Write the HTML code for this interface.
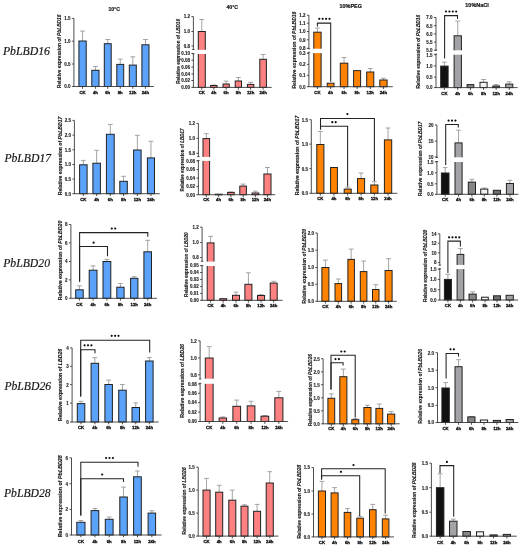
<!DOCTYPE html>
<html><head><meta charset="utf-8"><style>
html,body{margin:0;padding:0;background:#fff;}
body{width:522px;height:550px;overflow:hidden;}
svg{display:block;will-change:transform;}
.a{stroke:#3a3a3a;stroke-width:0.9;fill:none;}
.e{stroke:#9a9a9a;stroke-width:0.9;fill:none;}
.k{stroke:#222;stroke-width:1.05;fill:none;}
.b{stroke:#222222;stroke-width:1;}
text{font-family:"Liberation Sans",sans-serif;font-weight:bold;fill:#222222;}
.tk{font-size:4.5px;text-anchor:end;fill:#1a1a1a;stroke:#1a1a1a;stroke-width:0.12px;}
.xl{font-size:4.3px;text-anchor:middle;fill:#111;stroke:#111;stroke-width:0.3px;}
.yl{font-size:4.9px;fill:#1a1a1a;stroke:#1a1a1a;stroke-width:0.15px;}
.st{font-size:7px;text-anchor:middle;fill:#222;}
.ti{font-size:5.8px;fill:#111;stroke:#111;stroke-width:0.2px;}
.rl{font-family:"Liberation Serif",serif;font-style:italic;font-weight:normal;font-size:11.6px;fill:#161616;stroke:#161616;stroke-width:0.18px;}
</style></head><body>
<svg width="522" height="550" viewBox="0 0 522 550">
<g id="c11">
<line x1="82.55" y1="31.1" x2="82.55" y2="41" class="e"/>
<line x1="80.15" y1="31.1" x2="84.95" y2="31.1" class="e"/>
<rect x="78.9" y="41" width="7.3" height="45.5" fill="#5aa2fa" class="b"/>
<line x1="82.55" y1="86.5" x2="82.55" y2="88.8" class="a"/>
<text x="82.55" y="93.7" class="xl">CK</text>
<line x1="95.4" y1="66.5" x2="95.4" y2="70.3" class="e"/>
<line x1="93" y1="66.5" x2="97.8" y2="66.5" class="e"/>
<rect x="91.8" y="70.3" width="7.2" height="16.2" fill="#5aa2fa" class="b"/>
<line x1="95.4" y1="86.5" x2="95.4" y2="88.8" class="a"/>
<text x="95.4" y="93.7" class="xl">4h</text>
<line x1="107.75" y1="39.5" x2="107.75" y2="43.7" class="e"/>
<line x1="105.35" y1="39.5" x2="110.15" y2="39.5" class="e"/>
<rect x="104.3" y="43.7" width="6.9" height="42.8" fill="#5aa2fa" class="b"/>
<line x1="107.75" y1="86.5" x2="107.75" y2="88.8" class="a"/>
<text x="107.75" y="93.7" class="xl">6h</text>
<line x1="120.25" y1="59.1" x2="120.25" y2="64.4" class="e"/>
<line x1="117.85" y1="59.1" x2="122.65" y2="59.1" class="e"/>
<rect x="116.8" y="64.4" width="6.9" height="22.1" fill="#5aa2fa" class="b"/>
<line x1="120.25" y1="86.5" x2="120.25" y2="88.8" class="a"/>
<text x="120.25" y="93.7" class="xl">8h</text>
<line x1="132.8" y1="56.8" x2="132.8" y2="65.1" class="e"/>
<line x1="130.4" y1="56.8" x2="135.2" y2="56.8" class="e"/>
<rect x="129.3" y="65.1" width="7" height="21.4" fill="#5aa2fa" class="b"/>
<line x1="132.8" y1="86.5" x2="132.8" y2="88.8" class="a"/>
<text x="132.8" y="93.7" class="xl">12h</text>
<line x1="145.45" y1="39.5" x2="145.45" y2="44.8" class="e"/>
<line x1="143.05" y1="39.5" x2="147.85" y2="39.5" class="e"/>
<rect x="141.9" y="44.8" width="7.1" height="41.7" fill="#5aa2fa" class="b"/>
<line x1="145.45" y1="86.5" x2="145.45" y2="88.8" class="a"/>
<text x="145.45" y="93.7" class="xl">24h</text>
<line x1="73.9" y1="18.4" x2="73.9" y2="86.5" class="a"/>
<line x1="73.4" y1="86.5" x2="153.8" y2="86.5" class="a"/>
<line x1="71.9" y1="18.4" x2="73.9" y2="18.4" class="a"/>
<text x="70.5" y="20.25" class="tk">1.5</text>
<line x1="71.9" y1="41.2" x2="73.9" y2="41.2" class="a"/>
<text x="70.5" y="43.05" class="tk">1.0</text>
<line x1="71.9" y1="64" x2="73.9" y2="64" class="a"/>
<text x="70.5" y="65.85" class="tk">0.5</text>
<line x1="71.9" y1="86.5" x2="73.9" y2="86.5" class="a"/>
<text x="70.5" y="88.35" class="tk">0.0</text>
<text transform="translate(61,88) rotate(-90)" class="yl" textLength="73.4" lengthAdjust="spacingAndGlyphs">Relative expression of <tspan font-style="italic">PbLBD16</tspan></text>
<text x="108.4" y="10.8" class="ti" textLength="11.5" lengthAdjust="spacingAndGlyphs">10°C</text>
</g>
<g id="c12">
<line x1="201.8" y1="19.5" x2="201.8" y2="31.5" class="e"/>
<line x1="199.4" y1="19.5" x2="204.2" y2="19.5" class="e"/>
<rect x="198.3" y="31.5" width="7" height="55.9" fill="#fc8080" class="b"/>
<rect x="197.2" y="49.8" width="9.2" height="4.2" fill="#fff"/>
<line x1="201.8" y1="87.4" x2="201.8" y2="89.7" class="a"/>
<text x="201.8" y="93.8" class="xl">CK</text>
<line x1="213.8" y1="85" x2="213.8" y2="85.5" class="e"/>
<line x1="211.4" y1="85" x2="216.2" y2="85" class="e"/>
<rect x="210.6" y="85.5" width="6.4" height="1.9" fill="#fc8080" class="b"/>
<line x1="213.8" y1="87.4" x2="213.8" y2="89.7" class="a"/>
<text x="213.8" y="93.8" class="xl">4h</text>
<line x1="226.1" y1="81.1" x2="226.1" y2="84" class="e"/>
<line x1="223.7" y1="81.1" x2="228.5" y2="81.1" class="e"/>
<rect x="223" y="84" width="6.2" height="3.4" fill="#fc8080" class="b"/>
<line x1="226.1" y1="87.4" x2="226.1" y2="89.7" class="a"/>
<text x="226.1" y="93.8" class="xl">6h</text>
<line x1="238.35" y1="77.5" x2="238.35" y2="81" class="e"/>
<line x1="235.95" y1="77.5" x2="240.75" y2="77.5" class="e"/>
<rect x="235.2" y="81" width="6.3" height="6.4" fill="#fc8080" class="b"/>
<line x1="238.35" y1="87.4" x2="238.35" y2="89.7" class="a"/>
<text x="238.35" y="93.8" class="xl">8h</text>
<line x1="250.6" y1="82.3" x2="250.6" y2="84.4" class="e"/>
<line x1="248.2" y1="82.3" x2="253" y2="82.3" class="e"/>
<rect x="247.4" y="84.4" width="6.4" height="3" fill="#fc8080" class="b"/>
<line x1="250.6" y1="87.4" x2="250.6" y2="89.7" class="a"/>
<text x="250.6" y="93.8" class="xl">12h</text>
<line x1="263.1" y1="54.5" x2="263.1" y2="59.3" class="e"/>
<line x1="260.7" y1="54.5" x2="265.5" y2="54.5" class="e"/>
<rect x="259.8" y="59.3" width="6.6" height="28.1" fill="#fc8080" class="b"/>
<line x1="263.1" y1="87.4" x2="263.1" y2="89.7" class="a"/>
<text x="263.1" y="93.8" class="xl">24h</text>
<line x1="193.4" y1="16.6" x2="193.4" y2="49.5" class="a"/>
<line x1="193.4" y1="53.8" x2="193.4" y2="87.4" class="a"/>
<line x1="192.2" y1="49.5" x2="194.6" y2="49.5" class="a"/>
<line x1="192.2" y1="53.8" x2="194.6" y2="53.8" class="a"/>
<line x1="192.9" y1="87.4" x2="271.7" y2="87.4" class="a"/>
<line x1="191.4" y1="16.6" x2="193.4" y2="16.6" class="a"/>
<text x="190" y="18.45" class="tk">1.2</text>
<line x1="191.4" y1="31.5" x2="193.4" y2="31.5" class="a"/>
<text x="190" y="33.35" class="tk">1.0</text>
<line x1="191.4" y1="46" x2="193.4" y2="46" class="a"/>
<text x="190" y="47.85" class="tk">0.8</text>
<line x1="191.4" y1="53.4" x2="193.4" y2="53.4" class="a"/>
<text x="190" y="55.25" class="tk">0.10</text>
<line x1="191.4" y1="60.2" x2="193.4" y2="60.2" class="a"/>
<text x="190" y="62.05" class="tk">0.08</text>
<line x1="191.4" y1="67.1" x2="193.4" y2="67.1" class="a"/>
<text x="190" y="68.95" class="tk">0.06</text>
<line x1="191.4" y1="74" x2="193.4" y2="74" class="a"/>
<text x="190" y="75.85" class="tk">0.04</text>
<line x1="191.4" y1="80.5" x2="193.4" y2="80.5" class="a"/>
<text x="190" y="82.35" class="tk">0.02</text>
<line x1="191.4" y1="87.4" x2="193.4" y2="87.4" class="a"/>
<text x="190" y="89.25" class="tk">0.00</text>
<text transform="translate(179.7,83.8) rotate(-90)" class="yl" textLength="64.8" lengthAdjust="spacingAndGlyphs">Relative expression of <tspan font-style="italic">LBD16</tspan></text>
<text x="226.5" y="9.3" class="ti" textLength="11.5" lengthAdjust="spacingAndGlyphs">40°C</text>
</g>
<g id="c13">
<line x1="317.45" y1="28" x2="317.45" y2="32.2" class="e"/>
<line x1="315.05" y1="28" x2="319.85" y2="28" class="e"/>
<rect x="313.8" y="32.2" width="7.3" height="54.5" fill="#ff8300" class="b"/>
<rect x="312.7" y="48.7" width="9.5" height="4.4" fill="#fff"/>
<line x1="317.45" y1="86.7" x2="317.45" y2="89" class="a"/>
<text x="317.45" y="93.7" class="xl">CK</text>
<rect x="327.2" y="83.2" width="6.8" height="3.5" fill="#ff8300" class="b"/>
<line x1="330.6" y1="86.7" x2="330.6" y2="89" class="a"/>
<text x="330.6" y="93.7" class="xl">4h</text>
<line x1="344.05" y1="57.5" x2="344.05" y2="63.2" class="e"/>
<line x1="341.65" y1="57.5" x2="346.45" y2="57.5" class="e"/>
<rect x="340.3" y="63.2" width="7.5" height="23.5" fill="#ff8300" class="b"/>
<line x1="344.05" y1="86.7" x2="344.05" y2="89" class="a"/>
<text x="344.05" y="93.7" class="xl">6h</text>
<rect x="353.6" y="70.6" width="7" height="16.1" fill="#ff8300" class="b"/>
<line x1="357.1" y1="86.7" x2="357.1" y2="89" class="a"/>
<text x="357.1" y="93.7" class="xl">8h</text>
<line x1="370.25" y1="68.5" x2="370.25" y2="72" class="e"/>
<line x1="367.85" y1="68.5" x2="372.65" y2="68.5" class="e"/>
<rect x="366.7" y="72" width="7.1" height="14.7" fill="#ff8300" class="b"/>
<line x1="370.25" y1="86.7" x2="370.25" y2="89" class="a"/>
<text x="370.25" y="93.7" class="xl">12h</text>
<line x1="383.45" y1="78.2" x2="383.45" y2="80" class="e"/>
<line x1="381.05" y1="78.2" x2="385.85" y2="78.2" class="e"/>
<rect x="379.8" y="80" width="7.3" height="6.7" fill="#ff8300" class="b"/>
<line x1="383.45" y1="86.7" x2="383.45" y2="89" class="a"/>
<text x="383.45" y="93.7" class="xl">24h</text>
<line x1="308.9" y1="15.2" x2="308.9" y2="48.7" class="a"/>
<line x1="308.9" y1="52.3" x2="308.9" y2="86.7" class="a"/>
<line x1="307.7" y1="48.7" x2="310.1" y2="48.7" class="a"/>
<line x1="307.7" y1="52.3" x2="310.1" y2="52.3" class="a"/>
<line x1="308.4" y1="86.7" x2="392.8" y2="86.7" class="a"/>
<line x1="306.9" y1="15.2" x2="308.9" y2="15.2" class="a"/>
<text x="305.5" y="17.05" class="tk">1.2</text>
<line x1="306.9" y1="23.2" x2="308.9" y2="23.2" class="a"/>
<text x="305.5" y="25.05" class="tk">1.1</text>
<line x1="306.9" y1="31.5" x2="308.9" y2="31.5" class="a"/>
<text x="305.5" y="33.35" class="tk">1.0</text>
<line x1="306.9" y1="39.8" x2="308.9" y2="39.8" class="a"/>
<text x="305.5" y="41.65" class="tk">0.9</text>
<line x1="306.9" y1="48.3" x2="308.9" y2="48.3" class="a"/>
<text x="305.5" y="50.15" class="tk">0.8</text>
<line x1="306.9" y1="53.3" x2="308.9" y2="53.3" class="a"/>
<text x="305.5" y="55.15" class="tk">0.3</text>
<line x1="306.9" y1="64.4" x2="308.9" y2="64.4" class="a"/>
<text x="305.5" y="66.25" class="tk">0.2</text>
<line x1="306.9" y1="75.4" x2="308.9" y2="75.4" class="a"/>
<text x="305.5" y="77.25" class="tk">0.1</text>
<line x1="306.9" y1="86.7" x2="308.9" y2="86.7" class="a"/>
<text x="305.5" y="88.55" class="tk">0.0</text>
<text transform="translate(296.3,88.6) rotate(-90)" class="yl" textLength="77" lengthAdjust="spacingAndGlyphs">Relative expression of <tspan font-style="italic">PbLBD16</tspan></text>
<polyline points="317.4,26.6 317.4,23.1 330.7,23.1 330.7,81.8" class="k"/>
<circle cx="319.3" cy="18.8" r="1.1" fill="#0d0d0d"/>
<circle cx="322.7" cy="18.8" r="1.1" fill="#0d0d0d"/>
<circle cx="326.1" cy="18.8" r="1.1" fill="#0d0d0d"/>
<circle cx="329.5" cy="18.8" r="1.1" fill="#0d0d0d"/>
<text x="339.6" y="7.7" class="ti" textLength="22.3" lengthAdjust="spacingAndGlyphs">10%PEG</text>
</g>
<g id="c14">
<line x1="444.4" y1="62.2" x2="444.4" y2="66.1" class="e"/>
<line x1="442" y1="62.2" x2="446.8" y2="62.2" class="e"/>
<rect x="440.7" y="66.1" width="7.4" height="21.5" fill="#111111" class="b"/>
<line x1="444.4" y1="87.6" x2="444.4" y2="89.9" class="a"/>
<text x="444.4" y="94.7" class="xl">CK</text>
<line x1="457.75" y1="21" x2="457.75" y2="35.8" class="e"/>
<line x1="455.35" y1="21" x2="460.15" y2="21" class="e"/>
<rect x="454.1" y="35.8" width="7.3" height="51.8" fill="#a3a3a7" class="b"/>
<rect x="453" y="50.3" width="9.5" height="4.4" fill="#fff"/>
<line x1="457.75" y1="87.6" x2="457.75" y2="89.9" class="a"/>
<text x="457.75" y="94.7" class="xl">4h</text>
<rect x="467.1" y="84.6" width="6.7" height="3" fill="#868686" class="b"/>
<line x1="470.45" y1="87.6" x2="470.45" y2="89.9" class="a"/>
<text x="470.45" y="94.7" class="xl">6h</text>
<line x1="483.55" y1="79.5" x2="483.55" y2="82.3" class="e"/>
<line x1="481.15" y1="79.5" x2="485.95" y2="79.5" class="e"/>
<rect x="480" y="82.3" width="7.1" height="5.3" fill="#f2f2f2" class="b"/>
<line x1="483.55" y1="87.6" x2="483.55" y2="89.9" class="a"/>
<text x="483.55" y="94.7" class="xl">8h</text>
<line x1="496.15" y1="84.6" x2="496.15" y2="86" class="e"/>
<line x1="493.75" y1="84.6" x2="498.55" y2="84.6" class="e"/>
<rect x="492.8" y="86" width="6.7" height="1.6" fill="#6e6e6e" class="b"/>
<line x1="496.15" y1="87.6" x2="496.15" y2="89.9" class="a"/>
<text x="496.15" y="94.7" class="xl">12h</text>
<line x1="509.25" y1="81.8" x2="509.25" y2="84.1" class="e"/>
<line x1="506.85" y1="81.8" x2="511.65" y2="81.8" class="e"/>
<rect x="505.7" y="84.1" width="7.1" height="3.5" fill="#a3a3a7" class="b"/>
<line x1="509.25" y1="87.6" x2="509.25" y2="89.9" class="a"/>
<text x="509.25" y="94.7" class="xl">24h</text>
<line x1="436" y1="17.5" x2="436" y2="50.3" class="a"/>
<line x1="436" y1="54.2" x2="436" y2="87.6" class="a"/>
<line x1="434.8" y1="50.3" x2="437.2" y2="50.3" class="a"/>
<line x1="434.8" y1="54.2" x2="437.2" y2="54.2" class="a"/>
<line x1="435.5" y1="87.6" x2="517.6" y2="87.6" class="a"/>
<line x1="434" y1="17.5" x2="436" y2="17.5" class="a"/>
<text x="432.6" y="19.35" class="tk">7.0</text>
<line x1="434" y1="25.7" x2="436" y2="25.7" class="a"/>
<text x="432.6" y="27.55" class="tk">6.5</text>
<line x1="434" y1="33.9" x2="436" y2="33.9" class="a"/>
<text x="432.6" y="35.75" class="tk">6.0</text>
<line x1="434" y1="42.1" x2="436" y2="42.1" class="a"/>
<text x="432.6" y="43.95" class="tk">5.5</text>
<line x1="434" y1="50.2" x2="436" y2="50.2" class="a"/>
<text x="432.6" y="52.05" class="tk">5.0</text>
<line x1="434" y1="54.7" x2="436" y2="54.7" class="a"/>
<text x="432.6" y="56.55" class="tk">1.5</text>
<line x1="434" y1="65.9" x2="436" y2="65.9" class="a"/>
<text x="432.6" y="67.75" class="tk">1.0</text>
<line x1="434" y1="77.1" x2="436" y2="77.1" class="a"/>
<text x="432.6" y="78.95" class="tk">0.5</text>
<line x1="434" y1="87.6" x2="436" y2="87.6" class="a"/>
<text x="432.6" y="89.45" class="tk">0.0</text>
<text transform="translate(419.5,88.6) rotate(-90)" class="yl" textLength="73.8" lengthAdjust="spacingAndGlyphs">Relative expression of <tspan font-style="italic">PbLBD16</tspan></text>
<polyline points="444.6,58.5 444.6,15.6 457.5,15.6 457.5,19.1" class="k"/>
<circle cx="446" cy="11.5" r="1.1" fill="#0d0d0d"/>
<circle cx="449.4" cy="11.5" r="1.1" fill="#0d0d0d"/>
<circle cx="452.8" cy="11.5" r="1.1" fill="#0d0d0d"/>
<circle cx="456.2" cy="11.5" r="1.1" fill="#0d0d0d"/>
<text x="465.3" y="7.2" class="ti" textLength="23.4" lengthAdjust="spacingAndGlyphs">10%NaCl</text>
</g>
<g id="c21">
<line x1="83.35" y1="160.4" x2="83.35" y2="164.8" class="e"/>
<line x1="80.95" y1="160.4" x2="85.75" y2="160.4" class="e"/>
<rect x="79.6" y="164.8" width="7.5" height="28.9" fill="#5aa2fa" class="b"/>
<line x1="83.35" y1="193.7" x2="83.35" y2="196" class="a"/>
<text x="83.35" y="200.6" class="xl">CK</text>
<line x1="96.65" y1="150.3" x2="96.65" y2="163.2" class="e"/>
<line x1="94.25" y1="150.3" x2="99.05" y2="150.3" class="e"/>
<rect x="92.9" y="163.2" width="7.5" height="30.5" fill="#5aa2fa" class="b"/>
<line x1="96.65" y1="193.7" x2="96.65" y2="196" class="a"/>
<text x="96.65" y="200.6" class="xl">4h</text>
<line x1="110.3" y1="124.4" x2="110.3" y2="134.3" class="e"/>
<line x1="107.9" y1="124.4" x2="112.7" y2="124.4" class="e"/>
<rect x="106.4" y="134.3" width="7.8" height="59.4" fill="#5aa2fa" class="b"/>
<line x1="110.3" y1="193.7" x2="110.3" y2="196" class="a"/>
<text x="110.3" y="200.6" class="xl">6h</text>
<line x1="123.55" y1="176.3" x2="123.55" y2="181.3" class="e"/>
<line x1="121.15" y1="176.3" x2="125.95" y2="176.3" class="e"/>
<rect x="119.8" y="181.3" width="7.5" height="12.4" fill="#5aa2fa" class="b"/>
<line x1="123.55" y1="193.7" x2="123.55" y2="196" class="a"/>
<text x="123.55" y="200.6" class="xl">8h</text>
<line x1="137.35" y1="135.3" x2="137.35" y2="150" class="e"/>
<line x1="134.95" y1="135.3" x2="139.75" y2="135.3" class="e"/>
<rect x="133.6" y="150" width="7.5" height="43.7" fill="#5aa2fa" class="b"/>
<line x1="137.35" y1="193.7" x2="137.35" y2="196" class="a"/>
<text x="137.35" y="200.6" class="xl">12h</text>
<line x1="150.95" y1="141.3" x2="150.95" y2="157.9" class="e"/>
<line x1="148.55" y1="141.3" x2="153.35" y2="141.3" class="e"/>
<rect x="147.4" y="157.9" width="7.1" height="35.8" fill="#5aa2fa" class="b"/>
<line x1="150.95" y1="193.7" x2="150.95" y2="196" class="a"/>
<text x="150.95" y="200.6" class="xl">24h</text>
<line x1="74.4" y1="120.4" x2="74.4" y2="193.7" class="a"/>
<line x1="73.9" y1="193.7" x2="159.8" y2="193.7" class="a"/>
<line x1="72.4" y1="120.4" x2="74.4" y2="120.4" class="a"/>
<text x="71" y="122.25" class="tk">2.5</text>
<line x1="72.4" y1="135.1" x2="74.4" y2="135.1" class="a"/>
<text x="71" y="136.95" class="tk">2.0</text>
<line x1="72.4" y1="149.8" x2="74.4" y2="149.8" class="a"/>
<text x="71" y="151.65" class="tk">1.5</text>
<line x1="72.4" y1="164.5" x2="74.4" y2="164.5" class="a"/>
<text x="71" y="166.35" class="tk">1.0</text>
<line x1="72.4" y1="179" x2="74.4" y2="179" class="a"/>
<text x="71" y="180.85" class="tk">0.5</text>
<line x1="72.4" y1="193.7" x2="74.4" y2="193.7" class="a"/>
<text x="71" y="195.55" class="tk">0.0</text>
<text transform="translate(61.9,195.2) rotate(-90)" class="yl" textLength="78.6" lengthAdjust="spacingAndGlyphs">Relative expression of <tspan font-style="italic">PbLBD17</tspan></text>
</g>
<g id="c22">
<line x1="206.3" y1="133.7" x2="206.3" y2="138.6" class="e"/>
<line x1="203.9" y1="133.7" x2="208.7" y2="133.7" class="e"/>
<rect x="203" y="138.6" width="6.6" height="56.1" fill="#fc8080" class="b"/>
<rect x="201.9" y="156.9" width="8.8" height="4" fill="#fff"/>
<line x1="206.3" y1="194.7" x2="206.3" y2="197" class="a"/>
<text x="206.3" y="201.2" class="xl">CK</text>
<rect x="215.2" y="194.2" width="6.8" height="0.6" fill="#fc8080" class="b"/>
<line x1="218.6" y1="194.7" x2="218.6" y2="197" class="a"/>
<text x="218.6" y="201.2" class="xl">4h</text>
<line x1="230.9" y1="192" x2="230.9" y2="192.4" class="e"/>
<line x1="228.5" y1="192" x2="233.3" y2="192" class="e"/>
<rect x="227.6" y="192.4" width="6.6" height="2.3" fill="#fc8080" class="b"/>
<line x1="230.9" y1="194.7" x2="230.9" y2="197" class="a"/>
<text x="230.9" y="201.2" class="xl">6h</text>
<line x1="243.1" y1="184.1" x2="243.1" y2="186.1" class="e"/>
<line x1="240.7" y1="184.1" x2="245.5" y2="184.1" class="e"/>
<rect x="239.8" y="186.1" width="6.6" height="8.6" fill="#fc8080" class="b"/>
<line x1="243.1" y1="194.7" x2="243.1" y2="197" class="a"/>
<text x="243.1" y="201.2" class="xl">8h</text>
<line x1="255.4" y1="191.2" x2="255.4" y2="193" class="e"/>
<line x1="253" y1="191.2" x2="257.8" y2="191.2" class="e"/>
<rect x="252" y="193" width="6.8" height="1.7" fill="#fc8080" class="b"/>
<line x1="255.4" y1="194.7" x2="255.4" y2="197" class="a"/>
<text x="255.4" y="201.2" class="xl">12h</text>
<line x1="267.45" y1="167.5" x2="267.45" y2="174" class="e"/>
<line x1="265.05" y1="167.5" x2="269.85" y2="167.5" class="e"/>
<rect x="263.9" y="174" width="7.1" height="20.7" fill="#fc8080" class="b"/>
<line x1="267.45" y1="194.7" x2="267.45" y2="197" class="a"/>
<text x="267.45" y="201.2" class="xl">24h</text>
<line x1="198.4" y1="123.4" x2="198.4" y2="156.6" class="a"/>
<line x1="198.4" y1="160.6" x2="198.4" y2="194.7" class="a"/>
<line x1="197.2" y1="156.6" x2="199.6" y2="156.6" class="a"/>
<line x1="197.2" y1="160.6" x2="199.6" y2="160.6" class="a"/>
<line x1="197.9" y1="194.7" x2="275.2" y2="194.7" class="a"/>
<line x1="196.4" y1="123.4" x2="198.4" y2="123.4" class="a"/>
<text x="195" y="125.25" class="tk">1.2</text>
<line x1="196.4" y1="138.3" x2="198.4" y2="138.3" class="a"/>
<text x="195" y="140.15" class="tk">1.0</text>
<line x1="196.4" y1="153.3" x2="198.4" y2="153.3" class="a"/>
<text x="195" y="155.15" class="tk">0.8</text>
<line x1="196.4" y1="160.9" x2="198.4" y2="160.9" class="a"/>
<text x="195" y="162.75" class="tk">0.08</text>
<line x1="196.4" y1="169.6" x2="198.4" y2="169.6" class="a"/>
<text x="195" y="171.45" class="tk">0.06</text>
<line x1="196.4" y1="178.1" x2="198.4" y2="178.1" class="a"/>
<text x="195" y="179.95" class="tk">0.04</text>
<line x1="196.4" y1="186.6" x2="198.4" y2="186.6" class="a"/>
<text x="195" y="188.45" class="tk">0.02</text>
<line x1="196.4" y1="194.7" x2="198.4" y2="194.7" class="a"/>
<text x="195" y="196.55" class="tk">0.00</text>
<text transform="translate(184.4,191.4) rotate(-90)" class="yl" textLength="62.8" lengthAdjust="spacingAndGlyphs">Relative expression of <tspan font-style="italic">LBD17</tspan></text>
</g>
<g id="c23">
<line x1="320.35" y1="131.4" x2="320.35" y2="144.5" class="e"/>
<line x1="317.95" y1="131.4" x2="322.75" y2="131.4" class="e"/>
<rect x="316.8" y="144.5" width="7.1" height="48.8" fill="#ff8300" class="b"/>
<line x1="320.35" y1="193.3" x2="320.35" y2="195.6" class="a"/>
<text x="320.35" y="200.3" class="xl">CK</text>
<rect x="330.6" y="167.5" width="6.8" height="25.8" fill="#ff8300" class="b"/>
<line x1="334" y1="193.3" x2="334" y2="195.6" class="a"/>
<text x="334" y="200.3" class="xl">4h</text>
<line x1="347.7" y1="187.1" x2="347.7" y2="189.1" class="e"/>
<line x1="345.3" y1="187.1" x2="350.1" y2="187.1" class="e"/>
<rect x="344.2" y="189.1" width="7" height="4.2" fill="#ff8300" class="b"/>
<line x1="347.7" y1="193.3" x2="347.7" y2="195.6" class="a"/>
<text x="347.7" y="200.3" class="xl">6h</text>
<line x1="361.05" y1="173" x2="361.05" y2="178.6" class="e"/>
<line x1="358.65" y1="173" x2="363.45" y2="173" class="e"/>
<rect x="357.5" y="178.6" width="7.1" height="14.7" fill="#ff8300" class="b"/>
<line x1="361.05" y1="193.3" x2="361.05" y2="195.6" class="a"/>
<text x="361.05" y="200.3" class="xl">8h</text>
<line x1="374.35" y1="181.6" x2="374.35" y2="185" class="e"/>
<line x1="371.95" y1="181.6" x2="376.75" y2="181.6" class="e"/>
<rect x="370.8" y="185" width="7.1" height="8.3" fill="#ff8300" class="b"/>
<line x1="374.35" y1="193.3" x2="374.35" y2="195.6" class="a"/>
<text x="374.35" y="200.3" class="xl">12h</text>
<line x1="388.05" y1="128" x2="388.05" y2="139.9" class="e"/>
<line x1="385.65" y1="128" x2="390.45" y2="128" class="e"/>
<rect x="384.4" y="139.9" width="7.3" height="53.4" fill="#ff8300" class="b"/>
<line x1="388.05" y1="193.3" x2="388.05" y2="195.6" class="a"/>
<text x="388.05" y="200.3" class="xl">24h</text>
<line x1="311.3" y1="119.7" x2="311.3" y2="193.3" class="a"/>
<line x1="310.8" y1="193.3" x2="397.4" y2="193.3" class="a"/>
<line x1="309.3" y1="119.7" x2="311.3" y2="119.7" class="a"/>
<text x="307.9" y="121.55" class="tk">1.5</text>
<line x1="309.3" y1="144.1" x2="311.3" y2="144.1" class="a"/>
<text x="307.9" y="145.95" class="tk">1.0</text>
<line x1="309.3" y1="168.7" x2="311.3" y2="168.7" class="a"/>
<text x="307.9" y="170.55" class="tk">0.5</text>
<line x1="309.3" y1="193.3" x2="311.3" y2="193.3" class="a"/>
<text x="307.9" y="195.15" class="tk">0.0</text>
<text transform="translate(298.9,195.2) rotate(-90)" class="yl" textLength="79.5" lengthAdjust="spacingAndGlyphs">Relative expression of <tspan font-style="italic">PbLBD17</tspan></text>
<polyline points="320.5,129.6 320.5,126.2 347.6,126.2 347.6,186.6" class="k"/>
<circle cx="332.3" cy="122.2" r="1.1" fill="#0d0d0d"/>
<circle cx="335.7" cy="122.2" r="1.1" fill="#0d0d0d"/>
<polyline points="320.5,129.6 320.5,118.4 374.4,118.4 374.4,180.9" class="k"/>
<circle cx="347.4" cy="114.1" r="1.1" fill="#0d0d0d"/>
</g>
<g id="c24">
<line x1="445.2" y1="167.6" x2="445.2" y2="173" class="e"/>
<line x1="442.8" y1="167.6" x2="447.6" y2="167.6" class="e"/>
<rect x="441.4" y="173" width="7.6" height="21.3" fill="#111111" class="b"/>
<line x1="445.2" y1="194.3" x2="445.2" y2="196.6" class="a"/>
<text x="445.2" y="201.2" class="xl">CK</text>
<line x1="458.55" y1="130.2" x2="458.55" y2="142.9" class="e"/>
<line x1="456.15" y1="130.2" x2="460.95" y2="130.2" class="e"/>
<rect x="455" y="142.9" width="7.1" height="51.4" fill="#a3a3a7" class="b"/>
<rect x="453.9" y="157.3" width="9.3" height="4.7" fill="#fff"/>
<line x1="458.55" y1="194.3" x2="458.55" y2="196.6" class="a"/>
<text x="458.55" y="201.2" class="xl">4h</text>
<line x1="471.9" y1="179.3" x2="471.9" y2="182.1" class="e"/>
<line x1="469.5" y1="179.3" x2="474.3" y2="179.3" class="e"/>
<rect x="468.3" y="182.1" width="7.2" height="12.2" fill="#868686" class="b"/>
<line x1="471.9" y1="194.3" x2="471.9" y2="196.6" class="a"/>
<text x="471.9" y="201.2" class="xl">6h</text>
<line x1="484.25" y1="188" x2="484.25" y2="189.1" class="e"/>
<line x1="481.85" y1="188" x2="486.65" y2="188" class="e"/>
<rect x="480.7" y="189.1" width="7.1" height="5.2" fill="#f2f2f2" class="b"/>
<line x1="484.25" y1="194.3" x2="484.25" y2="196.6" class="a"/>
<text x="484.25" y="201.2" class="xl">8h</text>
<rect x="493.3" y="190.3" width="7.2" height="4" fill="#6e6e6e" class="b"/>
<line x1="496.9" y1="194.3" x2="496.9" y2="196.6" class="a"/>
<text x="496.9" y="201.2" class="xl">12h</text>
<line x1="509.95" y1="180.3" x2="509.95" y2="183.5" class="e"/>
<line x1="507.55" y1="180.3" x2="512.35" y2="180.3" class="e"/>
<rect x="506.4" y="183.5" width="7.1" height="10.8" fill="#a3a3a7" class="b"/>
<line x1="509.95" y1="194.3" x2="509.95" y2="196.6" class="a"/>
<text x="509.95" y="201.2" class="xl">24h</text>
<line x1="436.9" y1="124.9" x2="436.9" y2="157.4" class="a"/>
<line x1="436.9" y1="161.5" x2="436.9" y2="194.3" class="a"/>
<line x1="435.7" y1="157.4" x2="438.1" y2="157.4" class="a"/>
<line x1="435.7" y1="161.5" x2="438.1" y2="161.5" class="a"/>
<line x1="436.4" y1="194.3" x2="518.4" y2="194.3" class="a"/>
<line x1="434.9" y1="124.9" x2="436.9" y2="124.9" class="a"/>
<text x="433.5" y="126.75" class="tk">20</text>
<line x1="434.9" y1="141.2" x2="436.9" y2="141.2" class="a"/>
<text x="433.5" y="143.05" class="tk">15</text>
<line x1="434.9" y1="156.9" x2="436.9" y2="156.9" class="a"/>
<text x="433.5" y="158.75" class="tk">10</text>
<line x1="434.9" y1="161.8" x2="436.9" y2="161.8" class="a"/>
<text x="433.5" y="163.65" class="tk">1.5</text>
<line x1="434.9" y1="172.8" x2="436.9" y2="172.8" class="a"/>
<text x="433.5" y="174.65" class="tk">1.0</text>
<line x1="434.9" y1="183.8" x2="436.9" y2="183.8" class="a"/>
<text x="433.5" y="185.65" class="tk">0.5</text>
<line x1="434.9" y1="194.3" x2="436.9" y2="194.3" class="a"/>
<text x="433.5" y="196.15" class="tk">0.0</text>
<text transform="translate(421.9,196.1) rotate(-90)" class="yl" textLength="74.6" lengthAdjust="spacingAndGlyphs">Relative expression of <tspan font-style="italic">PbLBD17</tspan></text>
<polyline points="445.7,164.9 445.7,124.4 458.3,124.4 458.3,127.6" class="k"/>
<circle cx="448.6" cy="120.6" r="1.1" fill="#0d0d0d"/>
<circle cx="452" cy="120.6" r="1.1" fill="#0d0d0d"/>
<circle cx="455.4" cy="120.6" r="1.1" fill="#0d0d0d"/>
</g>
<g id="c31">
<line x1="79.45" y1="285.9" x2="79.45" y2="289.8" class="e"/>
<line x1="77.05" y1="285.9" x2="81.85" y2="285.9" class="e"/>
<rect x="75.7" y="289.8" width="7.5" height="8.5" fill="#5aa2fa" class="b"/>
<line x1="79.45" y1="298.3" x2="79.45" y2="300.6" class="a"/>
<text x="79.45" y="305.9" class="xl">CK</text>
<line x1="93.1" y1="265.9" x2="93.1" y2="270.2" class="e"/>
<line x1="90.7" y1="265.9" x2="95.5" y2="265.9" class="e"/>
<rect x="89.2" y="270.2" width="7.8" height="28.1" fill="#5aa2fa" class="b"/>
<line x1="93.1" y1="298.3" x2="93.1" y2="300.6" class="a"/>
<text x="93.1" y="305.9" class="xl">4h</text>
<line x1="106.9" y1="259.4" x2="106.9" y2="261.5" class="e"/>
<line x1="104.5" y1="259.4" x2="109.3" y2="259.4" class="e"/>
<rect x="103" y="261.5" width="7.8" height="36.8" fill="#5aa2fa" class="b"/>
<line x1="106.9" y1="298.3" x2="106.9" y2="300.6" class="a"/>
<text x="106.9" y="305.9" class="xl">6h</text>
<line x1="120.45" y1="283.6" x2="120.45" y2="287.2" class="e"/>
<line x1="118.05" y1="283.6" x2="122.85" y2="283.6" class="e"/>
<rect x="116.8" y="287.2" width="7.3" height="11.1" fill="#5aa2fa" class="b"/>
<line x1="120.45" y1="298.3" x2="120.45" y2="300.6" class="a"/>
<text x="120.45" y="305.9" class="xl">8h</text>
<line x1="134.25" y1="276.7" x2="134.25" y2="278.3" class="e"/>
<line x1="131.85" y1="276.7" x2="136.65" y2="276.7" class="e"/>
<rect x="130.6" y="278.3" width="7.3" height="20" fill="#5aa2fa" class="b"/>
<line x1="134.25" y1="298.3" x2="134.25" y2="300.6" class="a"/>
<text x="134.25" y="305.9" class="xl">12h</text>
<line x1="147.7" y1="240.3" x2="147.7" y2="251.8" class="e"/>
<line x1="145.3" y1="240.3" x2="150.1" y2="240.3" class="e"/>
<rect x="143.9" y="251.8" width="7.6" height="46.5" fill="#5aa2fa" class="b"/>
<line x1="147.7" y1="298.3" x2="147.7" y2="300.6" class="a"/>
<text x="147.7" y="305.9" class="xl">24h</text>
<line x1="70.9" y1="224.5" x2="70.9" y2="298.3" class="a"/>
<line x1="70.4" y1="298.3" x2="157" y2="298.3" class="a"/>
<line x1="68.9" y1="224.5" x2="70.9" y2="224.5" class="a"/>
<text x="67.5" y="226.35" class="tk">8</text>
<line x1="68.9" y1="242.9" x2="70.9" y2="242.9" class="a"/>
<text x="67.5" y="244.75" class="tk">6</text>
<line x1="68.9" y1="261.5" x2="70.9" y2="261.5" class="a"/>
<text x="67.5" y="263.35" class="tk">4</text>
<line x1="68.9" y1="279.9" x2="70.9" y2="279.9" class="a"/>
<text x="67.5" y="281.75" class="tk">2</text>
<line x1="68.9" y1="298.3" x2="70.9" y2="298.3" class="a"/>
<text x="67.5" y="300.15" class="tk">0</text>
<text transform="translate(61.8,300.2) rotate(-90)" class="yl" textLength="79.5" lengthAdjust="spacingAndGlyphs">Relative expression of <tspan font-style="italic">PbLBD20</tspan></text>
<polyline points="79.6,281.7 79.6,246.4 107.5,246.4 107.5,256.2" class="k"/>
<circle cx="93.6" cy="242.7" r="1.1" fill="#0d0d0d"/>
<polyline points="79.6,281.7 79.6,232.6 147.8,232.6 147.8,236.7" class="k"/>
<circle cx="111.8" cy="228.5" r="1.1" fill="#0d0d0d"/>
<circle cx="115.2" cy="228.5" r="1.1" fill="#0d0d0d"/>
</g>
<g id="c32">
<line x1="210.6" y1="236.4" x2="210.6" y2="242.9" class="e"/>
<line x1="208.2" y1="236.4" x2="213" y2="236.4" class="e"/>
<rect x="207.2" y="242.9" width="6.8" height="57.4" fill="#fc8080" class="b"/>
<rect x="206.1" y="261.6" width="9" height="4.4" fill="#fff"/>
<line x1="210.6" y1="300.3" x2="210.6" y2="302.6" class="a"/>
<text x="210.6" y="307" class="xl">CK</text>
<rect x="219.8" y="298.7" width="6.8" height="1.6" fill="#fc8080" class="b"/>
<line x1="223.2" y1="300.3" x2="223.2" y2="302.6" class="a"/>
<text x="223.2" y="307" class="xl">4h</text>
<line x1="236" y1="292.1" x2="236" y2="295.3" class="e"/>
<line x1="233.6" y1="292.1" x2="238.4" y2="292.1" class="e"/>
<rect x="232.5" y="295.3" width="7" height="5" fill="#fc8080" class="b"/>
<line x1="236" y1="300.3" x2="236" y2="302.6" class="a"/>
<text x="236" y="307" class="xl">6h</text>
<line x1="248.4" y1="272.8" x2="248.4" y2="284.3" class="e"/>
<line x1="246" y1="272.8" x2="250.8" y2="272.8" class="e"/>
<rect x="244.9" y="284.3" width="7" height="16" fill="#fc8080" class="b"/>
<line x1="248.4" y1="300.3" x2="248.4" y2="302.6" class="a"/>
<text x="248.4" y="307" class="xl">8h</text>
<line x1="261.05" y1="294.6" x2="261.05" y2="295.5" class="e"/>
<line x1="258.65" y1="294.6" x2="263.45" y2="294.6" class="e"/>
<rect x="257.5" y="295.5" width="7.1" height="4.8" fill="#fc8080" class="b"/>
<line x1="261.05" y1="300.3" x2="261.05" y2="302.6" class="a"/>
<text x="261.05" y="307" class="xl">12h</text>
<line x1="273.7" y1="281.3" x2="273.7" y2="283.1" class="e"/>
<line x1="271.3" y1="281.3" x2="276.1" y2="281.3" class="e"/>
<rect x="270.2" y="283.1" width="7" height="17.2" fill="#fc8080" class="b"/>
<line x1="273.7" y1="300.3" x2="273.7" y2="302.6" class="a"/>
<text x="273.7" y="307" class="xl">24h</text>
<line x1="202.1" y1="227.2" x2="202.1" y2="261.3" class="a"/>
<line x1="202.1" y1="265.6" x2="202.1" y2="300.3" class="a"/>
<line x1="200.9" y1="261.3" x2="203.3" y2="261.3" class="a"/>
<line x1="200.9" y1="265.6" x2="203.3" y2="265.6" class="a"/>
<line x1="201.6" y1="300.3" x2="282.5" y2="300.3" class="a"/>
<line x1="200.1" y1="227.2" x2="202.1" y2="227.2" class="a"/>
<text x="198.7" y="229.05" class="tk">1.2</text>
<line x1="200.1" y1="242.6" x2="202.1" y2="242.6" class="a"/>
<text x="198.7" y="244.45" class="tk">1.0</text>
<line x1="200.1" y1="257.6" x2="202.1" y2="257.6" class="a"/>
<text x="198.7" y="259.45" class="tk">0.8</text>
<line x1="200.1" y1="265.6" x2="202.1" y2="265.6" class="a"/>
<text x="198.7" y="267.45" class="tk">0.05</text>
<line x1="200.1" y1="272.5" x2="202.1" y2="272.5" class="a"/>
<text x="198.7" y="274.35" class="tk">0.04</text>
<line x1="200.1" y1="279.4" x2="202.1" y2="279.4" class="a"/>
<text x="198.7" y="281.25" class="tk">0.03</text>
<line x1="200.1" y1="286.6" x2="202.1" y2="286.6" class="a"/>
<text x="198.7" y="288.45" class="tk">0.02</text>
<line x1="200.1" y1="293.4" x2="202.1" y2="293.4" class="a"/>
<text x="198.7" y="295.25" class="tk">0.01</text>
<line x1="200.1" y1="300.3" x2="202.1" y2="300.3" class="a"/>
<text x="198.7" y="302.15" class="tk">0.00</text>
<text transform="translate(188,296.9) rotate(-90)" class="yl" textLength="64.5" lengthAdjust="spacingAndGlyphs">Relative expression of <tspan font-style="italic">LBD20</tspan></text>
</g>
<g id="c33">
<line x1="325.4" y1="260.1" x2="325.4" y2="267.5" class="e"/>
<line x1="323" y1="260.1" x2="327.8" y2="260.1" class="e"/>
<rect x="321.9" y="267.5" width="7" height="33.8" fill="#ff8300" class="b"/>
<line x1="325.4" y1="301.3" x2="325.4" y2="303.6" class="a"/>
<text x="325.4" y="307.9" class="xl">CK</text>
<line x1="338.3" y1="279" x2="338.3" y2="283.6" class="e"/>
<line x1="335.9" y1="279" x2="340.7" y2="279" class="e"/>
<rect x="335" y="283.6" width="6.6" height="17.7" fill="#ff8300" class="b"/>
<line x1="338.3" y1="301.3" x2="338.3" y2="303.6" class="a"/>
<text x="338.3" y="307.9" class="xl">4h</text>
<line x1="351.15" y1="249.1" x2="351.15" y2="259.4" class="e"/>
<line x1="348.75" y1="249.1" x2="353.55" y2="249.1" class="e"/>
<rect x="347.9" y="259.4" width="6.5" height="41.9" fill="#ff8300" class="b"/>
<line x1="351.15" y1="301.3" x2="351.15" y2="303.6" class="a"/>
<text x="351.15" y="307.9" class="xl">6h</text>
<line x1="363.6" y1="261" x2="363.6" y2="271.6" class="e"/>
<line x1="361.2" y1="261" x2="366" y2="261" class="e"/>
<rect x="360.3" y="271.6" width="6.6" height="29.7" fill="#ff8300" class="b"/>
<line x1="363.6" y1="301.3" x2="363.6" y2="303.6" class="a"/>
<text x="363.6" y="307.9" class="xl">8h</text>
<line x1="375.75" y1="284.7" x2="375.75" y2="289.5" class="e"/>
<line x1="373.35" y1="284.7" x2="378.15" y2="284.7" class="e"/>
<rect x="372.5" y="289.5" width="6.5" height="11.8" fill="#ff8300" class="b"/>
<line x1="375.75" y1="301.3" x2="375.75" y2="303.6" class="a"/>
<text x="375.75" y="307.9" class="xl">12h</text>
<line x1="388.6" y1="258.7" x2="388.6" y2="270.5" class="e"/>
<line x1="386.2" y1="258.7" x2="391" y2="258.7" class="e"/>
<rect x="385.1" y="270.5" width="7" height="30.8" fill="#ff8300" class="b"/>
<line x1="388.6" y1="301.3" x2="388.6" y2="303.6" class="a"/>
<text x="388.6" y="307.9" class="xl">24h</text>
<line x1="317.3" y1="233" x2="317.3" y2="301.3" class="a"/>
<line x1="316.8" y1="301.3" x2="396.8" y2="301.3" class="a"/>
<line x1="315.3" y1="233" x2="317.3" y2="233" class="a"/>
<text x="313.9" y="234.85" class="tk">2.0</text>
<line x1="315.3" y1="250.2" x2="317.3" y2="250.2" class="a"/>
<text x="313.9" y="252.05" class="tk">1.5</text>
<line x1="315.3" y1="267.5" x2="317.3" y2="267.5" class="a"/>
<text x="313.9" y="269.35" class="tk">1.0</text>
<line x1="315.3" y1="284.3" x2="317.3" y2="284.3" class="a"/>
<text x="313.9" y="286.15" class="tk">0.5</text>
<line x1="315.3" y1="301.3" x2="317.3" y2="301.3" class="a"/>
<text x="313.9" y="303.15" class="tk">0.0</text>
<text transform="translate(306,303.6) rotate(-90)" class="yl" textLength="74.6" lengthAdjust="spacingAndGlyphs">Relative expression of <tspan font-style="italic">PbLBD20</tspan></text>
</g>
<g id="c34">
<line x1="447.9" y1="274.3" x2="447.9" y2="279.4" class="e"/>
<line x1="445.5" y1="274.3" x2="450.3" y2="274.3" class="e"/>
<rect x="444.4" y="279.4" width="7" height="20.6" fill="#111111" class="b"/>
<line x1="447.9" y1="300" x2="447.9" y2="302.3" class="a"/>
<text x="447.9" y="307.1" class="xl">CK</text>
<line x1="460.45" y1="248.6" x2="460.45" y2="254.4" class="e"/>
<line x1="458.05" y1="248.6" x2="462.85" y2="248.6" class="e"/>
<rect x="457.1" y="254.4" width="6.7" height="45.6" fill="#a3a3a7" class="b"/>
<rect x="456" y="264.9" width="8.9" height="4.2" fill="#fff"/>
<line x1="460.45" y1="300" x2="460.45" y2="302.3" class="a"/>
<text x="460.45" y="307.1" class="xl">4h</text>
<line x1="472.6" y1="291.8" x2="472.6" y2="294.1" class="e"/>
<line x1="470.2" y1="291.8" x2="475" y2="291.8" class="e"/>
<rect x="469" y="294.1" width="7.2" height="5.9" fill="#868686" class="b"/>
<line x1="472.6" y1="300" x2="472.6" y2="302.3" class="a"/>
<text x="472.6" y="307.1" class="xl">6h</text>
<rect x="481.6" y="297.2" width="6.7" height="2.8" fill="#f2f2f2" class="b"/>
<line x1="484.95" y1="300" x2="484.95" y2="302.3" class="a"/>
<text x="484.95" y="307.1" class="xl">8h</text>
<rect x="493.5" y="295.8" width="7" height="4.2" fill="#6e6e6e" class="b"/>
<line x1="497" y1="300" x2="497" y2="302.3" class="a"/>
<text x="497" y="307.1" class="xl">12h</text>
<rect x="506.1" y="295.3" width="7.2" height="4.7" fill="#a3a3a7" class="b"/>
<line x1="509.7" y1="300" x2="509.7" y2="302.3" class="a"/>
<text x="509.7" y="307.1" class="xl">24h</text>
<line x1="439.8" y1="233.8" x2="439.8" y2="265.1" class="a"/>
<line x1="439.8" y1="268.7" x2="439.8" y2="300" class="a"/>
<line x1="438.6" y1="265.1" x2="441" y2="265.1" class="a"/>
<line x1="438.6" y1="268.7" x2="441" y2="268.7" class="a"/>
<line x1="439.3" y1="300" x2="518.1" y2="300" class="a"/>
<line x1="437.8" y1="233.8" x2="439.8" y2="233.8" class="a"/>
<text x="436.4" y="235.65" class="tk">14</text>
<line x1="437.8" y1="243.2" x2="439.8" y2="243.2" class="a"/>
<text x="436.4" y="245.05" class="tk">12</text>
<line x1="437.8" y1="252.8" x2="439.8" y2="252.8" class="a"/>
<text x="436.4" y="254.65" class="tk">10</text>
<line x1="437.8" y1="262.6" x2="439.8" y2="262.6" class="a"/>
<text x="436.4" y="264.45" class="tk">8</text>
<line x1="437.8" y1="269.2" x2="439.8" y2="269.2" class="a"/>
<text x="436.4" y="271.05" class="tk">1.5</text>
<line x1="437.8" y1="279.4" x2="439.8" y2="279.4" class="a"/>
<text x="436.4" y="281.25" class="tk">1.0</text>
<line x1="437.8" y1="289.7" x2="439.8" y2="289.7" class="a"/>
<text x="436.4" y="291.55" class="tk">0.5</text>
<line x1="437.8" y1="300" x2="439.8" y2="300" class="a"/>
<text x="436.4" y="301.85" class="tk">0.0</text>
<text transform="translate(426.6,302) rotate(-90)" class="yl" textLength="72.2" lengthAdjust="spacingAndGlyphs">Relative expression of <tspan font-style="italic">PbLBD20</tspan></text>
<polyline points="447.9,273.1 447.9,241.1 460.4,241.1 460.4,246.5" class="k"/>
<circle cx="449.1" cy="237.3" r="1.1" fill="#0d0d0d"/>
<circle cx="452.5" cy="237.3" r="1.1" fill="#0d0d0d"/>
<circle cx="455.9" cy="237.3" r="1.1" fill="#0d0d0d"/>
<circle cx="459.3" cy="237.3" r="1.1" fill="#0d0d0d"/>
</g>
<g id="c41">
<line x1="81.05" y1="401.3" x2="81.05" y2="403.6" class="e"/>
<line x1="78.65" y1="401.3" x2="83.45" y2="401.3" class="e"/>
<rect x="77.3" y="403.6" width="7.5" height="18.4" fill="#5aa2fa" class="b"/>
<line x1="81.05" y1="422" x2="81.05" y2="424.3" class="a"/>
<text x="81.05" y="429.3" class="xl">CK</text>
<line x1="94.85" y1="357.6" x2="94.85" y2="363.3" class="e"/>
<line x1="92.45" y1="357.6" x2="97.25" y2="357.6" class="e"/>
<rect x="91.1" y="363.3" width="7.5" height="58.7" fill="#5aa2fa" class="b"/>
<line x1="94.85" y1="422" x2="94.85" y2="424.3" class="a"/>
<text x="94.85" y="429.3" class="xl">4h</text>
<line x1="108.65" y1="380.1" x2="108.65" y2="384.5" class="e"/>
<line x1="106.25" y1="380.1" x2="111.05" y2="380.1" class="e"/>
<rect x="104.9" y="384.5" width="7.5" height="37.5" fill="#5aa2fa" class="b"/>
<line x1="108.65" y1="422" x2="108.65" y2="424.3" class="a"/>
<text x="108.65" y="429.3" class="xl">6h</text>
<line x1="122.45" y1="384.5" x2="122.45" y2="390.2" class="e"/>
<line x1="120.05" y1="384.5" x2="124.85" y2="384.5" class="e"/>
<rect x="118.7" y="390.2" width="7.5" height="31.8" fill="#5aa2fa" class="b"/>
<line x1="122.45" y1="422" x2="122.45" y2="424.3" class="a"/>
<text x="122.45" y="429.3" class="xl">8h</text>
<line x1="135.75" y1="402.9" x2="135.75" y2="407.5" class="e"/>
<line x1="133.35" y1="402.9" x2="138.15" y2="402.9" class="e"/>
<rect x="132" y="407.5" width="7.5" height="14.5" fill="#5aa2fa" class="b"/>
<line x1="135.75" y1="422" x2="135.75" y2="424.3" class="a"/>
<text x="135.75" y="429.3" class="xl">12h</text>
<line x1="149.35" y1="357.6" x2="149.35" y2="361" class="e"/>
<line x1="146.95" y1="357.6" x2="151.75" y2="357.6" class="e"/>
<rect x="145.6" y="361" width="7.5" height="61" fill="#5aa2fa" class="b"/>
<line x1="149.35" y1="422" x2="149.35" y2="424.3" class="a"/>
<text x="149.35" y="429.3" class="xl">24h</text>
<line x1="72.1" y1="347.9" x2="72.1" y2="422" class="a"/>
<line x1="71.6" y1="422" x2="158.7" y2="422" class="a"/>
<line x1="70.1" y1="347.9" x2="72.1" y2="347.9" class="a"/>
<text x="68.7" y="349.75" class="tk">4</text>
<line x1="70.1" y1="366.3" x2="72.1" y2="366.3" class="a"/>
<text x="68.7" y="368.15" class="tk">3</text>
<line x1="70.1" y1="384.7" x2="72.1" y2="384.7" class="a"/>
<text x="68.7" y="386.55" class="tk">2</text>
<line x1="70.1" y1="403.1" x2="72.1" y2="403.1" class="a"/>
<text x="68.7" y="404.95" class="tk">1</text>
<line x1="70.1" y1="422" x2="72.1" y2="422" class="a"/>
<text x="68.7" y="423.85" class="tk">0</text>
<text transform="translate(61.9,421) rotate(-90)" class="yl" textLength="72.1" lengthAdjust="spacingAndGlyphs">Relative expression of <tspan font-style="italic">LBD26</tspan></text>
<polyline points="80.7,396.5 80.7,349.7 95,349.7 95,353.3" class="k"/>
<circle cx="84.6" cy="345.3" r="1.1" fill="#0d0d0d"/>
<circle cx="88" cy="345.3" r="1.1" fill="#0d0d0d"/>
<circle cx="91.4" cy="345.3" r="1.1" fill="#0d0d0d"/>
<polyline points="80.7,396.5 80.7,340.3 149.7,340.3 149.7,352.5" class="k"/>
<circle cx="111.7" cy="335.8" r="1.1" fill="#0d0d0d"/>
<circle cx="115.1" cy="335.8" r="1.1" fill="#0d0d0d"/>
<circle cx="118.5" cy="335.8" r="1.1" fill="#0d0d0d"/>
</g>
<g id="c42">
<line x1="209.2" y1="346.6" x2="209.2" y2="358" class="e"/>
<line x1="206.8" y1="346.6" x2="211.6" y2="346.6" class="e"/>
<rect x="205.3" y="358" width="7.8" height="63.5" fill="#fc8080" class="b"/>
<rect x="204.2" y="378.7" width="10" height="5.1" fill="#fff"/>
<line x1="209.2" y1="421.5" x2="209.2" y2="423.8" class="a"/>
<text x="209.2" y="429.3" class="xl">CK</text>
<line x1="222.85" y1="416.9" x2="222.85" y2="418" class="e"/>
<line x1="220.45" y1="416.9" x2="225.25" y2="416.9" class="e"/>
<rect x="219.1" y="418" width="7.5" height="3.5" fill="#fc8080" class="b"/>
<line x1="222.85" y1="421.5" x2="222.85" y2="423.8" class="a"/>
<text x="222.85" y="429.3" class="xl">4h</text>
<line x1="236.75" y1="400.1" x2="236.75" y2="406.3" class="e"/>
<line x1="234.35" y1="400.1" x2="239.15" y2="400.1" class="e"/>
<rect x="232.9" y="406.3" width="7.7" height="15.2" fill="#fc8080" class="b"/>
<line x1="236.75" y1="421.5" x2="236.75" y2="423.8" class="a"/>
<text x="236.75" y="429.3" class="xl">6h</text>
<line x1="251.05" y1="401.3" x2="251.05" y2="405.9" class="e"/>
<line x1="248.65" y1="401.3" x2="253.45" y2="401.3" class="e"/>
<rect x="247.2" y="405.9" width="7.7" height="15.6" fill="#fc8080" class="b"/>
<line x1="251.05" y1="421.5" x2="251.05" y2="423.8" class="a"/>
<text x="251.05" y="429.3" class="xl">8h</text>
<line x1="264.85" y1="415.5" x2="264.85" y2="416.2" class="e"/>
<line x1="262.45" y1="415.5" x2="267.25" y2="415.5" class="e"/>
<rect x="261" y="416.2" width="7.7" height="5.3" fill="#fc8080" class="b"/>
<line x1="264.85" y1="421.5" x2="264.85" y2="423.8" class="a"/>
<text x="264.85" y="429.3" class="xl">12h</text>
<line x1="278.85" y1="391.4" x2="278.85" y2="397.8" class="e"/>
<line x1="276.45" y1="391.4" x2="281.25" y2="391.4" class="e"/>
<rect x="274.8" y="397.8" width="8.1" height="23.7" fill="#fc8080" class="b"/>
<line x1="278.85" y1="421.5" x2="278.85" y2="423.8" class="a"/>
<text x="278.85" y="429.3" class="xl">24h</text>
<line x1="200.1" y1="340.8" x2="200.1" y2="379" class="a"/>
<line x1="200.1" y1="383.3" x2="200.1" y2="421.5" class="a"/>
<line x1="198.9" y1="379" x2="201.3" y2="379" class="a"/>
<line x1="198.9" y1="383.3" x2="201.3" y2="383.3" class="a"/>
<line x1="199.6" y1="421.5" x2="288.1" y2="421.5" class="a"/>
<line x1="198.1" y1="340.8" x2="200.1" y2="340.8" class="a"/>
<text x="196.7" y="342.65" class="tk">1.2</text>
<line x1="198.1" y1="358" x2="200.1" y2="358" class="a"/>
<text x="196.7" y="359.85" class="tk">1.0</text>
<line x1="198.1" y1="374.8" x2="200.1" y2="374.8" class="a"/>
<text x="196.7" y="376.65" class="tk">0.8</text>
<line x1="198.1" y1="384" x2="200.1" y2="384" class="a"/>
<text x="196.7" y="385.85" class="tk">0.08</text>
<line x1="198.1" y1="393.2" x2="200.1" y2="393.2" class="a"/>
<text x="196.7" y="395.05" class="tk">0.06</text>
<line x1="198.1" y1="402.6" x2="200.1" y2="402.6" class="a"/>
<text x="196.7" y="404.45" class="tk">0.04</text>
<line x1="198.1" y1="412.1" x2="200.1" y2="412.1" class="a"/>
<text x="196.7" y="413.95" class="tk">0.02</text>
<line x1="198.1" y1="421.5" x2="200.1" y2="421.5" class="a"/>
<text x="196.7" y="423.35" class="tk">0.00</text>
<text transform="translate(183.9,417.8) rotate(-90)" class="yl" textLength="73.8" lengthAdjust="spacingAndGlyphs">Relative expression of <tspan font-style="italic">LBD26</tspan></text>
</g>
<g id="c43">
<line x1="331.3" y1="393.9" x2="331.3" y2="398.3" class="e"/>
<line x1="328.9" y1="393.9" x2="333.7" y2="393.9" class="e"/>
<rect x="327.9" y="398.3" width="6.8" height="25.5" fill="#ff8300" class="b"/>
<line x1="331.3" y1="423.8" x2="331.3" y2="426.1" class="a"/>
<text x="331.3" y="430.3" class="xl">CK</text>
<line x1="343.35" y1="369.1" x2="343.35" y2="376.7" class="e"/>
<line x1="340.95" y1="369.1" x2="345.75" y2="369.1" class="e"/>
<rect x="339.8" y="376.7" width="7.1" height="47.1" fill="#ff8300" class="b"/>
<line x1="343.35" y1="423.8" x2="343.35" y2="426.1" class="a"/>
<text x="343.35" y="430.3" class="xl">4h</text>
<line x1="355.3" y1="418.5" x2="355.3" y2="419.7" class="e"/>
<line x1="352.9" y1="418.5" x2="357.7" y2="418.5" class="e"/>
<rect x="351.8" y="419.7" width="7" height="4.1" fill="#ff8300" class="b"/>
<line x1="355.3" y1="423.8" x2="355.3" y2="426.1" class="a"/>
<text x="355.3" y="430.3" class="xl">6h</text>
<line x1="367.45" y1="405.2" x2="367.45" y2="407.5" class="e"/>
<line x1="365.05" y1="405.2" x2="369.85" y2="405.2" class="e"/>
<rect x="363.9" y="407.5" width="7.1" height="16.3" fill="#ff8300" class="b"/>
<line x1="367.45" y1="423.8" x2="367.45" y2="426.1" class="a"/>
<text x="367.45" y="430.3" class="xl">8h</text>
<line x1="379.3" y1="404" x2="379.3" y2="408.4" class="e"/>
<line x1="376.9" y1="404" x2="381.7" y2="404" class="e"/>
<rect x="375.9" y="408.4" width="6.8" height="15.4" fill="#ff8300" class="b"/>
<line x1="379.3" y1="423.8" x2="379.3" y2="426.1" class="a"/>
<text x="379.3" y="430.3" class="xl">12h</text>
<line x1="391.15" y1="411.6" x2="391.15" y2="414.1" class="e"/>
<line x1="388.75" y1="411.6" x2="393.55" y2="411.6" class="e"/>
<rect x="387.6" y="414.1" width="7.1" height="9.7" fill="#ff8300" class="b"/>
<line x1="391.15" y1="423.8" x2="391.15" y2="426.1" class="a"/>
<text x="391.15" y="430.3" class="xl">24h</text>
<line x1="323.1" y1="358.7" x2="323.1" y2="423.8" class="a"/>
<line x1="322.6" y1="423.8" x2="399.7" y2="423.8" class="a"/>
<line x1="321.1" y1="358.7" x2="323.1" y2="358.7" class="a"/>
<text x="319.7" y="360.55" class="tk">2.5</text>
<line x1="321.1" y1="371.8" x2="323.1" y2="371.8" class="a"/>
<text x="319.7" y="373.65" class="tk">2.0</text>
<line x1="321.1" y1="384.7" x2="323.1" y2="384.7" class="a"/>
<text x="319.7" y="386.55" class="tk">1.5</text>
<line x1="321.1" y1="397.8" x2="323.1" y2="397.8" class="a"/>
<text x="319.7" y="399.65" class="tk">1.0</text>
<line x1="321.1" y1="410.9" x2="323.1" y2="410.9" class="a"/>
<text x="319.7" y="412.75" class="tk">0.5</text>
<line x1="321.1" y1="423.8" x2="323.1" y2="423.8" class="a"/>
<text x="319.7" y="425.65" class="tk">0.0</text>
<text transform="translate(311.7,426.1) rotate(-90)" class="yl" textLength="72.1" lengthAdjust="spacingAndGlyphs">Relative expression of <tspan font-style="italic">PbLBD26</tspan></text>
<polyline points="331,389.5 331,362.8 343.1,362.8 343.1,365.5" class="k"/>
<circle cx="335.5" cy="359.1" r="1.1" fill="#0d0d0d"/>
<circle cx="338.9" cy="359.1" r="1.1" fill="#0d0d0d"/>
<polyline points="331,389.5 331,355.3 355.2,355.3 355.2,417.4" class="k"/>
<circle cx="341.3" cy="351.5" r="1.1" fill="#0d0d0d"/>
<circle cx="344.7" cy="351.5" r="1.1" fill="#0d0d0d"/>
</g>
<g id="c44">
<line x1="445.6" y1="382.6" x2="445.6" y2="388" class="e"/>
<line x1="443.2" y1="382.6" x2="448" y2="382.6" class="e"/>
<rect x="441.9" y="388" width="7.4" height="34.5" fill="#111111" class="b"/>
<line x1="445.6" y1="422.5" x2="445.6" y2="424.8" class="a"/>
<text x="445.6" y="429.7" class="xl">CK</text>
<line x1="458.55" y1="359.7" x2="458.55" y2="366.7" class="e"/>
<line x1="456.15" y1="359.7" x2="460.95" y2="359.7" class="e"/>
<rect x="455" y="366.7" width="7.1" height="55.8" fill="#a3a3a7" class="b"/>
<line x1="458.55" y1="422.5" x2="458.55" y2="424.8" class="a"/>
<text x="458.55" y="429.7" class="xl">4h</text>
<line x1="471.4" y1="416.5" x2="471.4" y2="416.9" class="e"/>
<line x1="469" y1="416.5" x2="473.8" y2="416.5" class="e"/>
<rect x="467.8" y="416.9" width="7.2" height="5.6" fill="#868686" class="b"/>
<line x1="471.4" y1="422.5" x2="471.4" y2="424.8" class="a"/>
<text x="471.4" y="429.7" class="xl">6h</text>
<rect x="480.4" y="420" width="7.2" height="2.5" fill="#f2f2f2" class="b"/>
<line x1="484" y1="422.5" x2="484" y2="424.8" class="a"/>
<text x="484" y="429.7" class="xl">8h</text>
<rect x="493.3" y="420.4" width="7.2" height="2.1" fill="#6e6e6e" class="b"/>
<line x1="496.9" y1="422.5" x2="496.9" y2="424.8" class="a"/>
<text x="496.9" y="429.7" class="xl">12h</text>
<rect x="506.1" y="419.5" width="7.2" height="3" fill="#a3a3a7" class="b"/>
<line x1="509.7" y1="422.5" x2="509.7" y2="424.8" class="a"/>
<text x="509.7" y="429.7" class="xl">24h</text>
<line x1="437.5" y1="352.7" x2="437.5" y2="422.5" class="a"/>
<line x1="437" y1="422.5" x2="518.4" y2="422.5" class="a"/>
<line x1="435.5" y1="352.7" x2="437.5" y2="352.7" class="a"/>
<text x="434.1" y="354.55" class="tk">2.0</text>
<line x1="435.5" y1="370.2" x2="437.5" y2="370.2" class="a"/>
<text x="434.1" y="372.05" class="tk">1.5</text>
<line x1="435.5" y1="387.7" x2="437.5" y2="387.7" class="a"/>
<text x="434.1" y="389.55" class="tk">1.0</text>
<line x1="435.5" y1="405.3" x2="437.5" y2="405.3" class="a"/>
<text x="434.1" y="407.15" class="tk">0.5</text>
<line x1="435.5" y1="422.5" x2="437.5" y2="422.5" class="a"/>
<text x="434.1" y="424.35" class="tk">0.0</text>
<text transform="translate(421.9,423.6) rotate(-90)" class="yl" textLength="74.6" lengthAdjust="spacingAndGlyphs">Relative expression of <tspan font-style="italic">PbLBD26</tspan></text>
<polyline points="446.1,378.5 446.1,353.4 458.5,353.4 458.5,356.5" class="k"/>
<circle cx="450.5" cy="349.3" r="1.1" fill="#0d0d0d"/>
<circle cx="453.9" cy="349.3" r="1.1" fill="#0d0d0d"/>
</g>
<g id="c51">
<line x1="80.9" y1="520.5" x2="80.9" y2="522.3" class="e"/>
<line x1="78.5" y1="520.5" x2="83.3" y2="520.5" class="e"/>
<rect x="76.8" y="522.3" width="8.2" height="12.7" fill="#5aa2fa" class="b"/>
<line x1="80.9" y1="535" x2="80.9" y2="537.3" class="a"/>
<text x="80.9" y="542.8" class="xl">CK</text>
<line x1="94.95" y1="508.5" x2="94.95" y2="510.6" class="e"/>
<line x1="92.55" y1="508.5" x2="97.35" y2="508.5" class="e"/>
<rect x="91.1" y="510.6" width="7.7" height="24.4" fill="#5aa2fa" class="b"/>
<line x1="94.95" y1="535" x2="94.95" y2="537.3" class="a"/>
<text x="94.95" y="542.8" class="xl">4h</text>
<line x1="109.2" y1="517" x2="109.2" y2="519.3" class="e"/>
<line x1="106.8" y1="517" x2="111.6" y2="517" class="e"/>
<rect x="105.3" y="519.3" width="7.8" height="15.7" fill="#5aa2fa" class="b"/>
<line x1="109.2" y1="535" x2="109.2" y2="537.3" class="a"/>
<text x="109.2" y="542.8" class="xl">6h</text>
<line x1="123.55" y1="487.1" x2="123.55" y2="497" class="e"/>
<line x1="121.15" y1="487.1" x2="125.95" y2="487.1" class="e"/>
<rect x="119.8" y="497" width="7.5" height="38" fill="#5aa2fa" class="b"/>
<line x1="123.55" y1="535" x2="123.55" y2="537.3" class="a"/>
<text x="123.55" y="542.8" class="xl">8h</text>
<line x1="137.45" y1="471" x2="137.45" y2="476.8" class="e"/>
<line x1="135.05" y1="471" x2="139.85" y2="471" class="e"/>
<rect x="133.6" y="476.8" width="7.7" height="58.2" fill="#5aa2fa" class="b"/>
<line x1="137.45" y1="535" x2="137.45" y2="537.3" class="a"/>
<text x="137.45" y="542.8" class="xl">12h</text>
<line x1="151.85" y1="510.8" x2="151.85" y2="513.1" class="e"/>
<line x1="149.45" y1="510.8" x2="154.25" y2="510.8" class="e"/>
<rect x="148.1" y="513.1" width="7.5" height="21.9" fill="#5aa2fa" class="b"/>
<line x1="151.85" y1="535" x2="151.85" y2="537.3" class="a"/>
<text x="151.85" y="542.8" class="xl">24h</text>
<line x1="71.5" y1="457.9" x2="71.5" y2="535" class="a"/>
<line x1="71" y1="535" x2="161.6" y2="535" class="a"/>
<line x1="69.5" y1="457.9" x2="71.5" y2="457.9" class="a"/>
<text x="68.1" y="459.75" class="tk">6</text>
<line x1="69.5" y1="483.7" x2="71.5" y2="483.7" class="a"/>
<text x="68.1" y="485.55" class="tk">4</text>
<line x1="69.5" y1="509.4" x2="71.5" y2="509.4" class="a"/>
<text x="68.1" y="511.25" class="tk">2</text>
<line x1="69.5" y1="535" x2="71.5" y2="535" class="a"/>
<text x="68.1" y="536.85" class="tk">0</text>
<text transform="translate(61.7,537.1) rotate(-90)" class="yl" textLength="81.9" lengthAdjust="spacingAndGlyphs">Relative expression of <tspan font-style="italic">PbLBD28</tspan></text>
<polyline points="80.8,515.5 80.8,478.8 123.5,478.8 123.5,482" class="k"/>
<circle cx="102.2" cy="474.5" r="1.1" fill="#0d0d0d"/>
<polyline points="80.8,515.5 80.8,462.2 138,462.2 138,466.7" class="k"/>
<circle cx="106.1" cy="458" r="1.1" fill="#0d0d0d"/>
<circle cx="109.5" cy="458" r="1.1" fill="#0d0d0d"/>
<circle cx="112.9" cy="458" r="1.1" fill="#0d0d0d"/>
</g>
<g id="c52">
<line x1="206.55" y1="478.4" x2="206.55" y2="490.1" class="e"/>
<line x1="204.15" y1="478.4" x2="208.95" y2="478.4" class="e"/>
<rect x="203" y="490.1" width="7.1" height="46" fill="#fc8080" class="b"/>
<line x1="206.55" y1="536.1" x2="206.55" y2="538.4" class="a"/>
<text x="206.55" y="543.4" class="xl">CK</text>
<line x1="219.2" y1="485.3" x2="219.2" y2="492.2" class="e"/>
<line x1="216.8" y1="485.3" x2="221.6" y2="485.3" class="e"/>
<rect x="215.7" y="492.2" width="7" height="43.9" fill="#fc8080" class="b"/>
<line x1="219.2" y1="536.1" x2="219.2" y2="538.4" class="a"/>
<text x="219.2" y="543.4" class="xl">4h</text>
<line x1="232.3" y1="490.1" x2="232.3" y2="500.2" class="e"/>
<line x1="229.9" y1="490.1" x2="234.7" y2="490.1" class="e"/>
<rect x="228.8" y="500.2" width="7" height="35.9" fill="#fc8080" class="b"/>
<line x1="232.3" y1="536.1" x2="232.3" y2="538.4" class="a"/>
<text x="232.3" y="543.4" class="xl">6h</text>
<line x1="244.5" y1="504.8" x2="244.5" y2="506.2" class="e"/>
<line x1="242.1" y1="504.8" x2="246.9" y2="504.8" class="e"/>
<rect x="241" y="506.2" width="7" height="29.9" fill="#fc8080" class="b"/>
<line x1="244.5" y1="536.1" x2="244.5" y2="538.4" class="a"/>
<text x="244.5" y="543.4" class="xl">8h</text>
<line x1="257.1" y1="504.4" x2="257.1" y2="511.3" class="e"/>
<line x1="254.7" y1="504.4" x2="259.5" y2="504.4" class="e"/>
<rect x="253.6" y="511.3" width="7" height="24.8" fill="#fc8080" class="b"/>
<line x1="257.1" y1="536.1" x2="257.1" y2="538.4" class="a"/>
<text x="257.1" y="543.4" class="xl">12h</text>
<line x1="269.75" y1="471.7" x2="269.75" y2="483" class="e"/>
<line x1="267.35" y1="471.7" x2="272.15" y2="471.7" class="e"/>
<rect x="266.2" y="483" width="7.1" height="53.1" fill="#fc8080" class="b"/>
<line x1="269.75" y1="536.1" x2="269.75" y2="538.4" class="a"/>
<text x="269.75" y="543.4" class="xl">24h</text>
<line x1="198.2" y1="467.1" x2="198.2" y2="536.1" class="a"/>
<line x1="197.7" y1="536.1" x2="278.4" y2="536.1" class="a"/>
<line x1="196.2" y1="467.1" x2="198.2" y2="467.1" class="a"/>
<text x="194.8" y="468.95" class="tk">1.5</text>
<line x1="196.2" y1="490.1" x2="198.2" y2="490.1" class="a"/>
<text x="194.8" y="491.95" class="tk">1.0</text>
<line x1="196.2" y1="513.1" x2="198.2" y2="513.1" class="a"/>
<text x="194.8" y="514.95" class="tk">0.5</text>
<line x1="196.2" y1="536.1" x2="198.2" y2="536.1" class="a"/>
<text x="194.8" y="537.95" class="tk">0.0</text>
<text transform="translate(186.2,534.5) rotate(-90)" class="yl" textLength="67.2" lengthAdjust="spacingAndGlyphs">Relative expression of <tspan font-style="italic">LBD28</tspan></text>
</g>
<g id="c53">
<line x1="321.95" y1="481.4" x2="321.95" y2="491" class="e"/>
<line x1="319.55" y1="481.4" x2="324.35" y2="481.4" class="e"/>
<rect x="318.4" y="491" width="7.1" height="45.9" fill="#ff8300" class="b"/>
<line x1="321.95" y1="536.9" x2="321.95" y2="539.2" class="a"/>
<text x="321.95" y="543.8" class="xl">CK</text>
<line x1="334.6" y1="487.6" x2="334.6" y2="492.9" class="e"/>
<line x1="332.2" y1="487.6" x2="337" y2="487.6" class="e"/>
<rect x="331.1" y="492.9" width="7" height="44" fill="#ff8300" class="b"/>
<line x1="334.6" y1="536.9" x2="334.6" y2="539.2" class="a"/>
<text x="334.6" y="543.8" class="xl">4h</text>
<line x1="347.5" y1="508.5" x2="347.5" y2="512.4" class="e"/>
<line x1="345.1" y1="508.5" x2="349.9" y2="508.5" class="e"/>
<rect x="344.2" y="512.4" width="6.6" height="24.5" fill="#ff8300" class="b"/>
<line x1="347.5" y1="536.9" x2="347.5" y2="539.2" class="a"/>
<text x="347.5" y="543.8" class="xl">6h</text>
<line x1="360.1" y1="516.3" x2="360.1" y2="518.2" class="e"/>
<line x1="357.7" y1="516.3" x2="362.5" y2="516.3" class="e"/>
<rect x="356.8" y="518.2" width="6.6" height="18.7" fill="#ff8300" class="b"/>
<line x1="360.1" y1="536.9" x2="360.1" y2="539.2" class="a"/>
<text x="360.1" y="543.8" class="xl">8h</text>
<line x1="372.8" y1="504.4" x2="372.8" y2="509.7" class="e"/>
<line x1="370.4" y1="504.4" x2="375.2" y2="504.4" class="e"/>
<rect x="369.5" y="509.7" width="6.6" height="27.2" fill="#ff8300" class="b"/>
<line x1="372.8" y1="536.9" x2="372.8" y2="539.2" class="a"/>
<text x="372.8" y="543.8" class="xl">12h</text>
<line x1="385.6" y1="515.2" x2="385.6" y2="518.9" class="e"/>
<line x1="383.2" y1="515.2" x2="388" y2="515.2" class="e"/>
<rect x="382.3" y="518.9" width="6.6" height="18" fill="#ff8300" class="b"/>
<line x1="385.6" y1="536.9" x2="385.6" y2="539.2" class="a"/>
<text x="385.6" y="543.8" class="xl">24h</text>
<line x1="313.5" y1="467.6" x2="313.5" y2="536.9" class="a"/>
<line x1="313" y1="536.9" x2="394" y2="536.9" class="a"/>
<line x1="311.5" y1="467.6" x2="313.5" y2="467.6" class="a"/>
<text x="310.1" y="469.45" class="tk">1.5</text>
<line x1="311.5" y1="491" x2="313.5" y2="491" class="a"/>
<text x="310.1" y="492.85" class="tk">1.0</text>
<line x1="311.5" y1="514" x2="313.5" y2="514" class="a"/>
<text x="310.1" y="515.85" class="tk">0.5</text>
<line x1="311.5" y1="536.9" x2="313.5" y2="536.9" class="a"/>
<text x="310.1" y="538.75" class="tk">0.0</text>
<text transform="translate(300.7,538.6) rotate(-90)" class="yl" textLength="73.8" lengthAdjust="spacingAndGlyphs">Relative expression of <tspan font-style="italic">PbLBD28</tspan></text>
<polyline points="321.6,479.4 321.6,475.8 359.7,475.8 359.7,515.9" class="k"/>
<circle cx="340.9" cy="471.8" r="1.1" fill="#0d0d0d"/>
<polyline points="321.6,479.4 321.6,468.8 385.2,468.8 385.2,513.6" class="k"/>
<circle cx="353.5" cy="465.1" r="1.1" fill="#0d0d0d"/>
</g>
<g id="c54">
<line x1="440.15" y1="473.8" x2="440.15" y2="487.7" class="e"/>
<line x1="437.75" y1="473.8" x2="442.55" y2="473.8" class="e"/>
<rect x="436.4" y="487.7" width="7.5" height="48.5" fill="#111111" class="b"/>
<line x1="440.15" y1="536.2" x2="440.15" y2="538.5" class="a"/>
<text x="440.15" y="543.5" class="xl">CK</text>
<line x1="453.25" y1="519.1" x2="453.25" y2="521.2" class="e"/>
<line x1="450.85" y1="519.1" x2="455.65" y2="519.1" class="e"/>
<rect x="449.5" y="521.2" width="7.5" height="15" fill="#a3a3a7" class="b"/>
<line x1="453.25" y1="536.2" x2="453.25" y2="538.5" class="a"/>
<text x="453.25" y="543.5" class="xl">4h</text>
<rect x="462.9" y="531.5" width="7.5" height="4.7" fill="#868686" class="b"/>
<line x1="466.65" y1="536.2" x2="466.65" y2="538.5" class="a"/>
<text x="466.65" y="543.5" class="xl">6h</text>
<rect x="476.5" y="531.8" width="7.1" height="4.4" fill="#f2f2f2" class="b"/>
<line x1="480.05" y1="536.2" x2="480.05" y2="538.5" class="a"/>
<text x="480.05" y="543.5" class="xl">8h</text>
<rect x="490" y="534.9" width="7.2" height="1.3" fill="#6e6e6e" class="b"/>
<line x1="493.6" y1="536.2" x2="493.6" y2="538.5" class="a"/>
<text x="493.6" y="543.5" class="xl">12h</text>
<rect x="503.3" y="534.4" width="7.2" height="1.8" fill="#a3a3a7" class="b"/>
<line x1="506.9" y1="536.2" x2="506.9" y2="538.5" class="a"/>
<text x="506.9" y="543.5" class="xl">24h</text>
<line x1="431.4" y1="463.2" x2="431.4" y2="536.2" class="a"/>
<line x1="430.9" y1="536.2" x2="516.7" y2="536.2" class="a"/>
<line x1="429.4" y1="463.2" x2="431.4" y2="463.2" class="a"/>
<text x="428" y="465.05" class="tk">1.5</text>
<line x1="429.4" y1="487.7" x2="431.4" y2="487.7" class="a"/>
<text x="428" y="489.55" class="tk">1.0</text>
<line x1="429.4" y1="512.2" x2="431.4" y2="512.2" class="a"/>
<text x="428" y="514.05" class="tk">0.5</text>
<line x1="429.4" y1="536.2" x2="431.4" y2="536.2" class="a"/>
<text x="428" y="538.05" class="tk">0.0</text>
<text transform="translate(416.2,537.8) rotate(-90)" class="yl" textLength="75.4" lengthAdjust="spacingAndGlyphs">Relative expression of <tspan font-style="italic">PbLBD28</tspan></text>
<polyline points="440,473 440,465.6 453.7,465.6 453.7,516.8" class="k"/>
<circle cx="446.9" cy="461.9" r="1.1" fill="#0d0d0d"/>
</g>
<text x="2.9" y="54.7" class="rl" textLength="47.1" lengthAdjust="spacingAndGlyphs">PbLBD16</text>
<text x="4.4" y="161.8" class="rl" textLength="46.7" lengthAdjust="spacingAndGlyphs">PbLBD17</text>
<text x="3.2" y="266.8" class="rl" textLength="46.8" lengthAdjust="spacingAndGlyphs">PbLBD20</text>
<text x="4.4" y="390.1" class="rl" textLength="46.7" lengthAdjust="spacingAndGlyphs">PbLBD26</text>
<text x="4" y="496.7" class="rl" textLength="46.6" lengthAdjust="spacingAndGlyphs">PbLBD28</text>
</svg>
</body></html>
